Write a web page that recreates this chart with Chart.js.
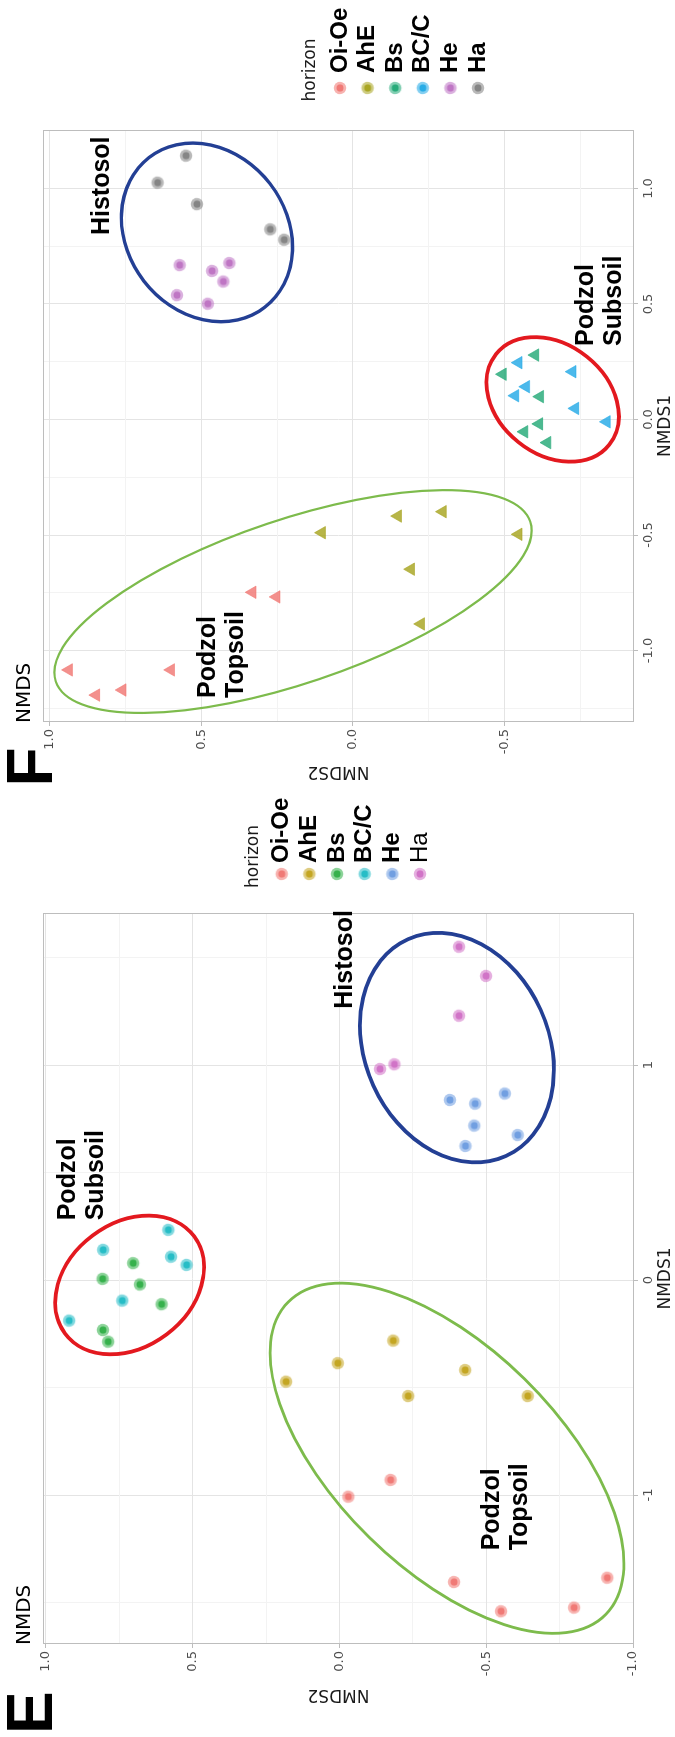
<!DOCTYPE html>
<html>
<head>
<meta charset="utf-8">
<script src="https://cdn.jsdelivr.net/npm/chart.js@4.4.1/dist/chart.umd.min.js"></script>
<style>
html, body { margin: 0; padding: 0; overflow: hidden; background: #fff; }
/* the figure is laid out landscape and turned a quarter turn to the left */
#fig { position: absolute; left: 0; top: 0; width: 1737px; height: 675px;
       transform-origin: 0 0; transform: translateY(1737px) rotate(-90deg); background: #fff; }
#fig canvas { position: absolute; top: 0; }
</style>
</head>
<body>
<div id="fig">
  <canvas id="chartE" width="960" height="675" style="left:0;width:960px;height:675px"></canvas>
  <canvas id="chartF" width="797" height="675" style="left:940px;width:797px;height:675px"></canvas>
</div>
<script>
const horizons = ['Oi-Oe', 'AhE', 'Bs', 'BC/C', 'He', 'Ha'];

// panel E samples, [NMDS1, NMDS2]
const eOiOe = [[-0.930, -0.174], [-1.008, -0.030], [-1.405, -0.390], [-1.541, -0.550], [-1.524, -0.799], [-1.385, -0.912]];
const eAhE  = [[-0.473, 0.182], [-0.387, 0.006], [-0.282, -0.183], [-0.419, -0.428], [-0.540, -0.234], [-0.540, -0.641]];
const eBs   = [[0.078, 0.703], [0.005, 0.807], [-0.021, 0.680], [-0.113, 0.606], [-0.233, 0.806], [-0.287, 0.788]];
const eBCC  = [[0.233, 0.583], [0.140, 0.805], [0.108, 0.574], [0.070, 0.521], [-0.096, 0.740], [-0.189, 0.921]];
const eHe   = [[0.867, -0.563], [0.837, -0.376], [0.820, -0.462], [0.718, -0.459], [0.674, -0.607], [0.623, -0.429]];
const eHa   = [[1.550, -0.407], [1.414, -0.499], [1.229, -0.407], [1.003, -0.187], [0.981, -0.138]];

// panel F samples, [NMDS1, NMDS2]
const fOiOe = [[-1.084, 0.938], [-1.193, 0.848], [-1.171, 0.761], [-1.084, 0.601], [-0.748, 0.332], [-0.768, 0.253]];
const fAhE  = [[-0.490, 0.103], [-0.418, -0.148], [-0.399, -0.296], [-0.497, -0.546], [-0.648, -0.191], [-0.885, -0.224]];
const fBs   = [[0.279, -0.601], [0.196, -0.494], [0.099, -0.617], [-0.019, -0.614], [-0.053, -0.565], [-0.100, -0.641]];
const fBCC  = [[0.246, -0.546], [0.207, -0.724], [0.142, -0.571], [0.103, -0.535], [0.048, -0.733], [-0.010, -0.837]];
const fHe   = [[0.668, 0.572], [0.677, 0.408], [0.643, 0.465], [0.597, 0.428], [0.538, 0.581], [0.501, 0.479]];
const fHa   = [[1.142, 0.551], [1.025, 0.645], [0.932, 0.515], [0.823, 0.273], [0.778, 0.227]];

const eColors = ['#F07470', '#C2A21A', '#2EAE45', '#1DBAC4', '#6B9BE0', '#CF6EC5'];
const fColors = ['#F07470', '#A5A21A', '#1FA774', '#1FA8E6', '#BC70C2', '#7F7F7F'];
// in F the podzol horizons are drawn as triangles, the peat ones as dots
const fTriangle = [true, true, true, true, false, false];

// groups: ellipse centre + two conjugate semi-axes (NMDS units), label anchor (left, middle)
const clusterNames = ['Podzol\nTopsoil', 'Podzol\nSubsoil', 'Histosol'];
const ellipseColors = ['#7DBB4C', '#E3191F', '#233F94'];

const eEllCentre = [[-0.829, -0.366], [-0.023, 0.715], [1.081, -0.400]];
const eEllAxisA  = [[-0.7265, -0.541], [0.226, -0.220], [-0.504, -0.167]];
const eEllAxisB  = [[-0.368, 0.265], [-0.230, -0.126], [-0.176, 0.285]];
const eLabelAt   = [[-1.248, -0.567], [0.287, 0.877], [1.271, -0.019]];

const fEllCentre = [[-0.788, 0.198], [0.087, -0.659], [0.810, 0.482]];
const fEllAxisA  = [[0.346, -0.783], [-0.196, -0.187], [-0.324, -0.191]];
const fEllAxisB  = [[-0.336, -0.0864], [-0.185, 0.113], [-0.211, 0.208]];
const fLabelAt   = [[-1.197, 0.431], [0.327, -0.815], [0.807, 0.827]];

function rgba(hex, a) {
    const n = parseInt(hex.slice(1), 16);
    return 'rgba(' + (n >> 16) + ',' + ((n >> 8) & 255) + ',' + (n & 255) + ',' + a + ')';
}

// round marker: pale ring with a darker core
function makeDot(hex) {
    const c = document.createElement('canvas');
    c.width = c.height = 16;
    const g = c.getContext('2d');
    g.fillStyle = rgba(hex, 0.55);
    g.beginPath(); g.arc(8, 8, 6.2, 0, Math.PI * 2); g.fill();
    g.fillStyle = rgba(hex, 0.9);
    g.beginPath(); g.arc(8, 8, 3.6, 0, Math.PI * 2); g.fill();
    return c;
}

function isMajor(v, major) {
    return Math.abs(v / major - Math.round(v / major)) < 1e-6;
}

function makeScale(min, max, step, major, digits, title, titlePad, side, size) {
    return {
        type: 'linear', min: min, max: max,
        ticks: {
            stepSize: step, includeBounds: false, maxTicksLimit: 40, autoSkip: false, maxRotation: 0,
            padding: 3, color: '#4D4D4D', font: { family: 'DejaVu Sans', size: 13 },
            callback: v => isMajor(v, major) ? Number(v).toFixed(digits).replace('-0.0', '0.0') : ''
        },
        grid: {
            color: c => (c.tick && isMajor(c.tick.value, major)) ? '#E4E4E4' : '#F3F3F3',
            tickColor: c => (c.tick && isMajor(c.tick.value, major)) ? '#BDBDBD' : 'rgba(0,0,0,0)',
            tickLength: 4, lineWidth: 1
        },
        border: { display: false },
        title: {
            display: true, text: title, color: '#1A1A1A',
            font: { family: 'DejaVu Sans', size: 17, lineHeight: 1 }, padding: titlePad
        },
        afterFit: s => { if (side === 'x') s.height = size; else s.width = size; }
    };
}

const deco = {
    id: 'deco',
    beforeDatasetsDraw(chart, args, o) {
        const { ctx, chartArea: a, scales: { x, y } } = chart;
        ctx.save();
        ctx.strokeStyle = '#BDBDBD';
        ctx.lineWidth = 1;
        ctx.strokeRect(a.left + 0.5, a.top + 0.5, a.width - 1, a.height - 1);
        o.centres.forEach((c, i) => {
            const cx = x.getPixelForValue(c[0]), cy = y.getPixelForValue(c[1]);
            const ua = o.axisA[i], ub = o.axisB[i];
            const ax = x.getPixelForValue(c[0] + ua[0]) - cx, ay = y.getPixelForValue(c[1] + ua[1]) - cy;
            const bx = x.getPixelForValue(c[0] + ub[0]) - cx, by = y.getPixelForValue(c[1] + ub[1]) - cy;
            ctx.save();
            ctx.beginPath();
            ctx.transform(ax, ay, bx, by, cx, cy);
            ctx.arc(0, 0, 1, 0, Math.PI * 2);
            ctx.restore();
            ctx.strokeStyle = ellipseColors[i];
            ctx.lineWidth = o.widths[i];
            ctx.stroke();
        });
        ctx.restore();
    },
    afterDatasetsDraw(chart, args, o) {
        const { ctx, chartArea: a, scales: { x, y } } = chart;
        ctx.save();
        ctx.fillStyle = '#000';
        ctx.textAlign = 'left';

        // group names
        ctx.font = 'bold 25px "Liberation Sans", Arial, sans-serif';
        ctx.textBaseline = 'middle';
        clusterNames.forEach((name, i) => {
            const lines = name.split('\n');
            const px = x.getPixelForValue(o.labels[i][0]) - 2;
            const py = y.getPixelForValue(o.labels[i][1]);
            lines.forEach((t, k) => ctx.fillText(t, px, py + (k - (lines.length - 1) / 2) * 28));
        });

        // plot title and panel letter
        ctx.textBaseline = 'alphabetic';
        ctx.font = '20px "DejaVu Sans"';
        ctx.fillText('NMDS', a.left - 1, 30);
        ctx.font = 'bold 64px "Liberation Sans", Arial, sans-serif';
        ctx.fillText(o.letter, o.letterX, 52);

        // legend
        const L = o.legend;
        ctx.fillStyle = '#1A1A1A';
        ctx.font = '17px "DejaVu Sans"';
        ctx.fillText('horizon', L.titleX, L.titleY);
        ctx.textBaseline = 'middle';
        ctx.fillStyle = '#000';
        chart.data.datasets.forEach((ds, i) => {
            const cy = L.firstY + i * L.step;
            const dot = makeDot(o.colors[i]);
            ctx.drawImage(dot, L.dotX - 8, cy - 8);
            ctx.font = (L.bold[i] ? 'bold ' : '') + '24px "Liberation Sans", Arial, sans-serif';
            ctx.fillText(ds.label, L.textX, cy);
        });
        ctx.restore();
    }
};

function toPoints(arr) {
    return arr.map(p => ({ x: p[0], y: p[1] }));
}

// ---- panel E ----
const eSeries = [eOiOe, eAhE, eBs, eBCC, eHe, eHa];
new Chart(document.getElementById('chartE').getContext('2d'), {
    type: 'scatter',
    data: {
        datasets: eSeries.map((s, i) => ({
            label: horizons[i],
            data: toPoints(s),
            pointStyle: makeDot(eColors[i]),
            pointRadius: 6,
            pointHoverRadius: 6
        }))
    },
    options: {
        responsive: false,
        animation: false,
        events: [],
        layout: { padding: { left: 0, top: 43, right: 136, bottom: 0 } },
        scales: {
            x: makeScale(-1.693, 1.707, 0.5, 1, 0, 'NMDS1', { top: 0, bottom: 0.5 }, 'x', 41),
            y: makeScale(-1.003, 1.010, 0.25, 0.5, 1, 'NMDS2', { top: 34.5, bottom: 0 }, 'y', 93)
        },
        plugins: {
            legend: { display: false },
            tooltip: { enabled: false },
            deco: {
                centres: eEllCentre, axisA: eEllAxisA, axisB: eEllAxisB, widths: [2.8, 3.8, 3.8],
                labels: eLabelAt, letter: 'E', letterX: 3, colors: eColors,
                legend: { dotX: 863, titleX: 849, titleY: 258, firstY: 281.7, step: 27.66, textX: 874,
                          bold: [true, true, true, true, true, false] }
            }
        }
    },
    plugins: [deco]
});

// ---- panel F ----
const fSeries = [fOiOe, fAhE, fBs, fBCC, fHe, fHa];
new Chart(document.getElementById('chartF').getContext('2d'), {
    type: 'scatter',
    data: {
        datasets: fSeries.map((s, i) => ({
            label: horizons[i],
            data: toPoints(s),
            pointStyle: fTriangle[i] ? 'triangle' : makeDot(fColors[i]),
            pointRadius: fTriangle[i] ? 7.2 : 6,
            pointHoverRadius: fTriangle[i] ? 7.2 : 6,
            backgroundColor: rgba(fColors[i], 0.8),
            borderColor: rgba(fColors[i], 0.95),
            borderWidth: 0.6
        }))
    },
    options: {
        responsive: false,
        animation: false,
        events: [],
        layout: { padding: { left: 0, top: 43, right: 130, bottom: 0 } },
        scales: {
            x: makeScale(-1.3095, 1.2532, 0.25, 0.5, 1, 'NMDS1', { top: 0, bottom: 0.5 }, 'x', 41),
            y: makeScale(-0.9274, 1.0231, 0.25, 0.5, 1, 'NMDS2', { top: 17, bottom: 0 }, 'y', 75)
        },
        plugins: {
            legend: { display: false },
            tooltip: { enabled: false },
            deco: {
                centres: fEllCentre, axisA: fEllAxisA, axisB: fEllAxisB, widths: [2.2, 3.8, 3.4],
                labels: fLabelAt, letter: 'F', letterX: 10.6, colors: fColors,
                legend: { dotX: 709, titleX: 695.5, titleY: 315, firstY: 340, step: 27.6, textX: 724,
                          bold: [true, true, true, true, true, true] }
            }
        }
    },
    plugins: [deco]
});
</script>
</body>
</html>
